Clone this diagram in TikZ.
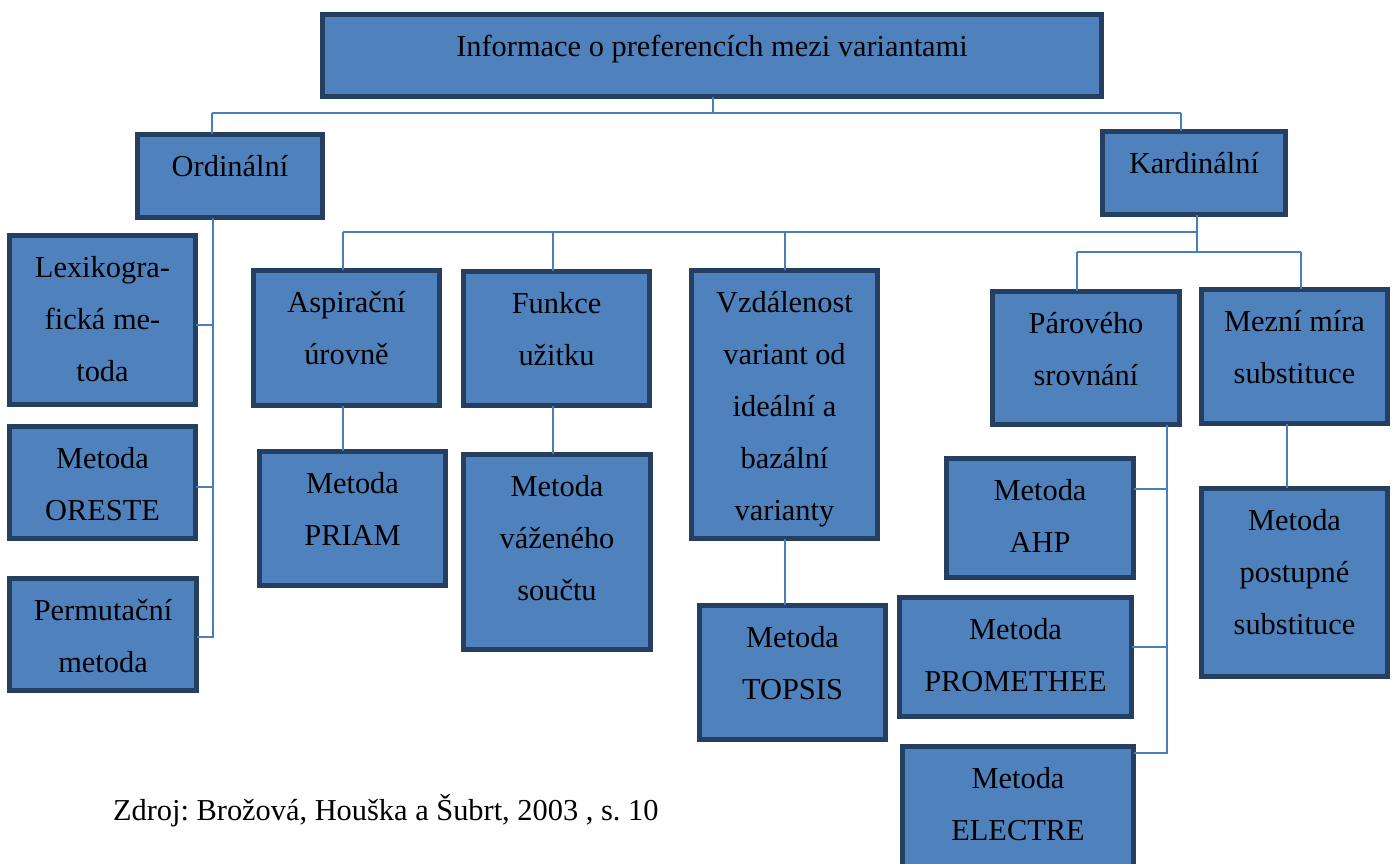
\documentclass[tikz,border=0pt]{standalone}
\usepackage{fontspec}
\setmainfont{Liberation Serif}
\frenchspacing
\definecolor{boxfill}{HTML}{4F81BD}
\definecolor{boxline}{HTML}{243F60}
\definecolor{linkblue}{HTML}{4A7EBB}
% #1 name, #2 #3 top-left corner, #4 #5 bottom-right corner, #6 text
\newcommand\methodbox[6]{%
  \node[blk, minimum width={(#4-#2)*0.5pt-2.4pt}, minimum height={(#5-#3)*0.5pt-2.4pt}]
    (#1) at ({(#2+#4)/2},{(#3+#5)/2}) {};
  \node[lbl] (#1-t) at ({(#2+#4)/2},{#3+44})
    {\parbox[t]{\dimexpr(#4pt-#2pt)/2\relax}{\centering\fontsize{15.2}{26}\selectfont #6}};
}
\begin{document}
\begin{tikzpicture}[x=0.5pt,y=-0.5pt,
  blk/.style={draw=boxline, fill=boxfill, line width=2.4pt, inner sep=0pt, outer sep=0pt},
  lbl/.style={inner sep=0pt, outer sep=0pt, anchor=base, font=\fontsize{15.2}{26}\selectfont},
  conn/.style={draw=linkblue, line width=0.8pt}]
\useasboundingbox (0,0) rectangle (1397,863);

% boxes
\methodbox{title}{320}{12}{1104}{99}{Informace o preferencích mezi variantami}
\methodbox{ord}{135}{132}{325}{220}{Ordinální}
\methodbox{kard}{1100}{129}{1288}{217}{Kardinální}
\methodbox{lex}{7}{233}{198}{407}{Lexikogra-\\fická me-\\toda}
\methodbox{ore}{7}{424}{198}{541}{Metoda\\ORESTE}
\methodbox{perm}{7}{576}{199}{693}{Permutační\\metoda}
\methodbox{asp}{251}{268}{442}{408}{Aspirační\\úrovně}
\methodbox{priam}{257}{449}{448}{588}{Metoda\\PRIAM}
\methodbox{fun}{461}{269}{652}{408}{Funkce\\užitku}
\methodbox{vaz}{461}{452}{653}{652}{Metoda\\váženého\\součtu}
\methodbox{vzd}{689}{268}{880}{541}{Vzdálenost\\variant od\\ideální a\\bazální\\varianty}
\methodbox{topsis}{697}{603}{888}{742}{Metoda\\TOPSIS}
\methodbox{par}{990}{289}{1182}{427}{Párového\\srovnání}
\methodbox{mez}{1199}{287}{1390}{426}{Mezní míra\\substituce}
\methodbox{ahp}{944}{456}{1136}{580}{Metoda\\AHP}
\methodbox{prom}{897}{595}{1134}{719}{Metoda\\PROMETHEE}
\methodbox{ele}{900}{744}{1136}{880}{Metoda\\ELECTRE}
\methodbox{post}{1199}{486}{1390}{679}{Metoda\\postupné\\substituce}

% top level split
\coordinate (jt) at (713,113);
\coordinate (jo) at (212,113);
\coordinate (jk) at (1181,113);
\draw[conn] (title.south -| jt) -- (jt);
\draw[conn] (jo) -- (jk);
\draw[conn] (jo) -- (jo |- ord.north);
\draw[conn] (jk) -- (jk |- kard.north);

% ordinal branch
\coordinate (so) at (213,637);
\coordinate (blex) at (213,325);
\coordinate (bore) at (213,487);
\draw[conn] (ord.south -| so) -- (so) -- (so -| perm.east);
\draw[conn] (blex) -- (blex -| lex.east);
\draw[conn] (bore) -- (bore -| ore.east);

% cardinal branch: upper bus and its drops
\coordinate (kb) at (1197,232);
\coordinate (kc) at (1197,252);
\coordinate (xa) at (343,232);
\coordinate (xf) at (553,232);
\coordinate (xv) at (785,232);
\coordinate (xp) at (1077,252);
\coordinate (xm) at (1301,252);
\draw[conn] (kard.south -| kb) -- (kc);
\draw[conn] (xa) -- (kb);
\draw[conn] (xa) -- (xa |- asp.north);
\draw[conn] (xf) -- (xf |- fun.north);
\draw[conn] (xv) -- (xv |- vzd.north);
\draw[conn] (xp) -- (xm);
\draw[conn] (xp) -- (xp |- par.north);
\draw[conn] (xm) -- (xm |- mez.north);

% methods below the criteria groups
\coordinate (xpm) at (1287,426);
\draw[conn] (asp.south -| xa) -- (xa |- priam.north);
\draw[conn] (fun.south -| xf) -- (xf |- vaz.north);
\draw[conn] (vzd.south -| xv) -- (xv |- topsis.north);
\draw[conn] (mez.south -| xpm) -- (xpm |- post.north);

% pairwise comparison methods
\coordinate (sp) at (1167,753);
\coordinate (bahp) at (1167,489);
\coordinate (bprom) at (1167,647);
\draw[conn] (par.south -| sp) -- (sp) -- (sp -| ele.east);
\draw[conn] (bahp) -- (bahp -| ahp.east);
\draw[conn] (bprom) -- (bprom -| prom.east);

% source line
\node[lbl, anchor=base west] (src) at (113,820) {Zdroj: Brožová, Houška a Šubrt, 2003 , s. 10};
\end{tikzpicture}
\end{document}
